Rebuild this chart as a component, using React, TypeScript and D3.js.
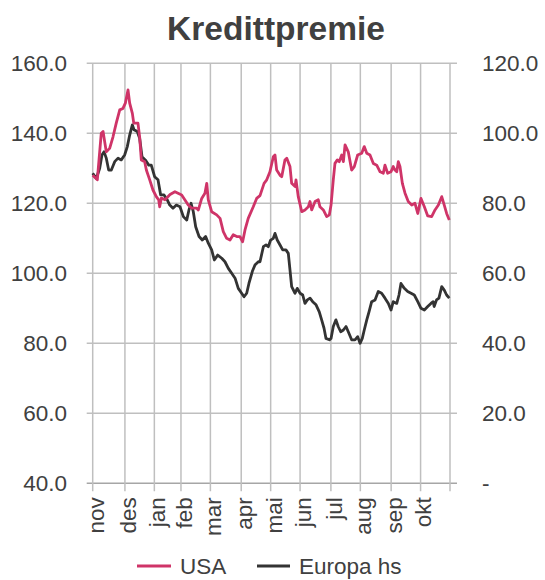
import React from 'react';
import * as d3 from 'd3';

// x = trading-day index from 1 Nov
const MONTHS = ['nov', 'des', 'jan', 'feb', 'mar', 'apr', 'mai', 'jun', 'jul', 'aug', 'sep', 'okt', ''];
const MONTH_START = [0, 23, 44, 63, 84, 106, 127, 148, 170, 191, 213, 234, 255];

const LEFT_TICKS = [40, 60, 80, 100, 120, 140, 160];
const RIGHT_TICKS = [0, 20, 40, 60, 80, 100, 120];

const USA_DAY = [0, 3.3, 6.1, 7.4, 9.7, 12.1, 14.5, 16.8, 19.3, 21.6, 23.3, 25.2, 26.4, 28.3, 29.3, 32.3, 33.5, 34.7, 37.1, 38.3, 40.7, 43, 45.4, 47.1, 47.8, 49, 51.6, 55.2, 58.7, 63.5, 68.2, 70.7, 74.2, 75.4, 77.8, 80.1, 81.4, 82.5, 84.9, 88.5, 90.9, 93.2, 95.6, 98, 100.3, 102.8, 105.1, 107, 108.7, 111, 114.6, 117, 119.4, 122.3, 124.2, 126.5, 128.9, 130.1, 131.3, 133.7, 134.9, 137.2, 138.5, 140.8, 142, 144.4, 145.1, 146.7, 149.2, 151.5, 153.9, 155.1, 156.3, 158.7, 161, 162.2, 164.6, 167, 168.9, 170.1, 171.7, 172.9, 174.6, 176, 177.7, 178.9, 180.1, 182.4, 184.8, 186.7, 189.1, 192, 193.8, 195.6, 197.9, 200.3, 202.7, 205.1, 207.4, 208.6, 210.5, 212.9, 214.5, 215.7, 217, 218.1, 219.3, 221, 222.9, 225.2, 227.7, 230, 232, 234.3, 236.7, 239.1, 241.9, 244.3, 246.7, 249.1, 250.9, 252.6, 254.5];
const USA = [128, 126.7, 140, 140.5, 134.7, 135.7, 139, 142.9, 146.7, 147.1, 148.6, 152.4, 148.6, 145.7, 142.9, 142.9, 139, 132.4, 131.9, 129.5, 126.7, 123.8, 121.9, 121, 119, 121.5, 121, 122.5, 123.3, 122.4, 119.5, 118.6, 118.6, 118.1, 121.4, 122.9, 125.7, 121, 117.6, 116.7, 115.7, 111.9, 110, 109.5, 111, 110.5, 110.5, 109, 112.4, 115.7, 119, 121.4, 122.2, 125.7, 126.7, 129, 133.3, 133.8, 129.5, 128, 127.6, 132.4, 132.9, 130.5, 125.7, 124.8, 126.7, 121.9, 117.6, 118.1, 119, 120.5, 118.1, 120.5, 121, 119, 118.1, 116.2, 116.7, 119.5, 126.7, 131.4, 132.4, 131.9, 133.8, 131.9, 136.7, 134.7, 129.5, 130.5, 133.8, 134.3, 136.2, 134.3, 133.8, 131.4, 130.9, 129, 128.6, 130.9, 128.6, 129, 130.5, 129.5, 129, 131.9, 130.5, 125.7, 122.9, 120.5, 119.5, 120, 117.1, 121.4, 119, 116.4, 116.2, 118.1, 119.5, 121.9, 119.5, 117.1, 115.2];

const EUR_DAY = [0, 2.6, 5, 6.6, 8.1, 9.7, 11.4, 13.3, 15.7, 18.1, 20.4, 22.8, 24.7, 26.4, 28.3, 29.5, 31.8, 33.5, 35.2, 37.5, 40, 41.8, 44.2, 46.6, 48.5, 50.9, 53.2, 55, 57.3, 59.7, 62.3, 64.7, 67.1, 68.7, 70.2, 71.8, 73.5, 75.9, 78.2, 80.6, 82.5, 84.9, 86.8, 89.2, 92.1, 94.4, 96.8, 99.2, 101.6, 103.9, 106.3, 108, 109.9, 111.5, 113.9, 115.8, 118.2, 119.4, 121.8, 123.7, 125.3, 127, 128.9, 130.1, 131.7, 133.7, 135.6, 137.9, 139.6, 140.8, 142, 144.4, 146, 148, 149.9, 151.5, 153.2, 155.1, 157, 159.4, 161.7, 163.4, 165.1, 166.5, 168.9, 170.1, 171.7, 173.6, 175.2, 177, 178.9, 180.8, 182.4, 184.8, 187.2, 189.1, 190.8, 192.4, 193.8, 195.6, 197.2, 199.1, 201.5, 203.8, 206.2, 208.6, 211, 212.9, 214.5, 217, 218.6, 220, 222.4, 224.8, 227.2, 229.5, 232, 234.3, 236.7, 239.1, 241.4, 243, 243.7, 245.4, 247.1, 249.1, 250.9, 252.6, 254.5];
const EUROPA = [88.6, 87.1, 90, 93.8, 94.7, 92.9, 89.5, 89.5, 91.9, 92.9, 92.4, 93.8, 96.2, 99.5, 102.4, 101, 100.5, 98.6, 93.3, 92.4, 90.9, 90.9, 87.6, 86.7, 82.4, 82.4, 81, 79.5, 78.6, 79.5, 79, 76.2, 75.2, 78.1, 80, 77.6, 73.3, 70.5, 69.5, 70.5, 68.6, 66.7, 63.8, 65.2, 64.3, 63.3, 61.4, 60, 58.6, 55.7, 54.3, 53.3, 54.3, 57.1, 60.5, 62.4, 63.3, 63.3, 67.6, 68.1, 67.6, 69.5, 70, 71.4, 69.5, 68.1, 66.7, 66.7, 65.7, 61, 56.2, 54.3, 55.7, 54.3, 53.8, 51.4, 52.4, 52.9, 51.9, 51, 49, 46.7, 44.3, 41.4, 41, 41.4, 44.8, 46.7, 44.8, 43.3, 43.8, 44.8, 43.3, 41, 41, 41.9, 40, 41.4, 43.8, 46.7, 49, 51.9, 52.4, 54.8, 54.3, 52.9, 51.4, 49.5, 51.9, 51.4, 53.8, 57.1, 55.7, 54.8, 54.3, 53.8, 51.9, 50, 49.5, 50.5, 51.4, 51.9, 50.5, 52.4, 52.9, 56.2, 55.2, 53.8, 52.9];

const W = 545, H = 580;
const PAD = { l: 92.7, r: 450, t: 63.3, b: 483.3 };
const FONT = '"Liberation Sans", Arial, sans-serif';
const TEXT = '#404040';
const USA_COLOR = '#CF3468';
const EUR_COLOR = '#333333';
const GRID = '#BFBFBF';
const FS = 22.5;

export default function App() {
  const x = d3.scaleLinear().domain([0, 255]).range([PAD.l, PAD.r]);
  const yL = d3.scaleLinear().domain([40, 160]).range([PAD.b, PAD.t]);
  const yR = d3.scaleLinear().domain([0, 120]).range([PAD.b, PAD.t]);

  const usaLine = d3.line<number>().x((_, i) => x(USA_DAY[i])).y(d => yL(d));
  const eurLine = d3.line<number>().x((_, i) => x(EUR_DAY[i])).y(d => yR(d));

  return (
    <svg width={W} height={H} style={{ position: 'absolute', left: 0, top: 0, background: '#fff' }} fontFamily={FONT}>
      <text x={276} y={40} textAnchor="middle" fontSize={33.5} fontWeight="bold" fill={TEXT}>Kredittpremie</text>

      {/* horizontal grid */}
      {LEFT_TICKS.map(t => (
        <line key={'h' + t} x1={PAD.l - 6} x2={PAD.r + 7} y1={yL(t)} y2={yL(t)}
          stroke={t === 40 ? '#A6A6A6' : GRID} strokeWidth={1.5} />
      ))}
      {/* vertical grid */}
      {MONTH_START.map((d, i) => (
        <line key={'v' + i} x1={x(d)} x2={x(d)} y1={PAD.t} y2={PAD.b + 8} stroke={GRID} strokeWidth={1.5} />
      ))}

      {LEFT_TICKS.map(t => (
        <text key={'l' + t} x={67} y={yL(t)} dy="0.36em" textAnchor="end" fontSize={FS} fill={TEXT}>{t.toFixed(1)}</text>
      ))}
      {RIGHT_TICKS.map(t => (
        <text key={'r' + t} x={482} y={yR(t)} dy="0.36em" textAnchor="start" fontSize={FS} fill={TEXT}>{t === 0 ? '-' : t.toFixed(1)}</text>
      ))}

      {MONTHS.map((m, i) => m && (
        <text key={'m' + i} transform={`translate(${x(MONTH_START[i]) + 3},${PAD.b + 14}) rotate(-90)`}
          dy="0.35em" textAnchor="end" fontSize={FS} fill={TEXT}>{m}</text>
      ))}

      <path d={eurLine(EUROPA) ?? ''} fill="none" stroke={EUR_COLOR} strokeWidth={2.8} strokeLinejoin="round" />
      <path d={usaLine(USA) ?? ''} fill="none" stroke={USA_COLOR} strokeWidth={2.8} strokeLinejoin="round" />

      {/* legend */}
      <line x1={137} x2={171} y1={566} y2={566} stroke={USA_COLOR} strokeWidth={2.8} />
      <text x={180} y={574} fontSize={FS} fill={TEXT}>USA</text>
      <line x1={257} x2={290} y1={566} y2={566} stroke={EUR_COLOR} strokeWidth={2.8} />
      <text x={299} y={574} fontSize={FS} fill={TEXT}>Europa hs</text>
    </svg>
  );
}
